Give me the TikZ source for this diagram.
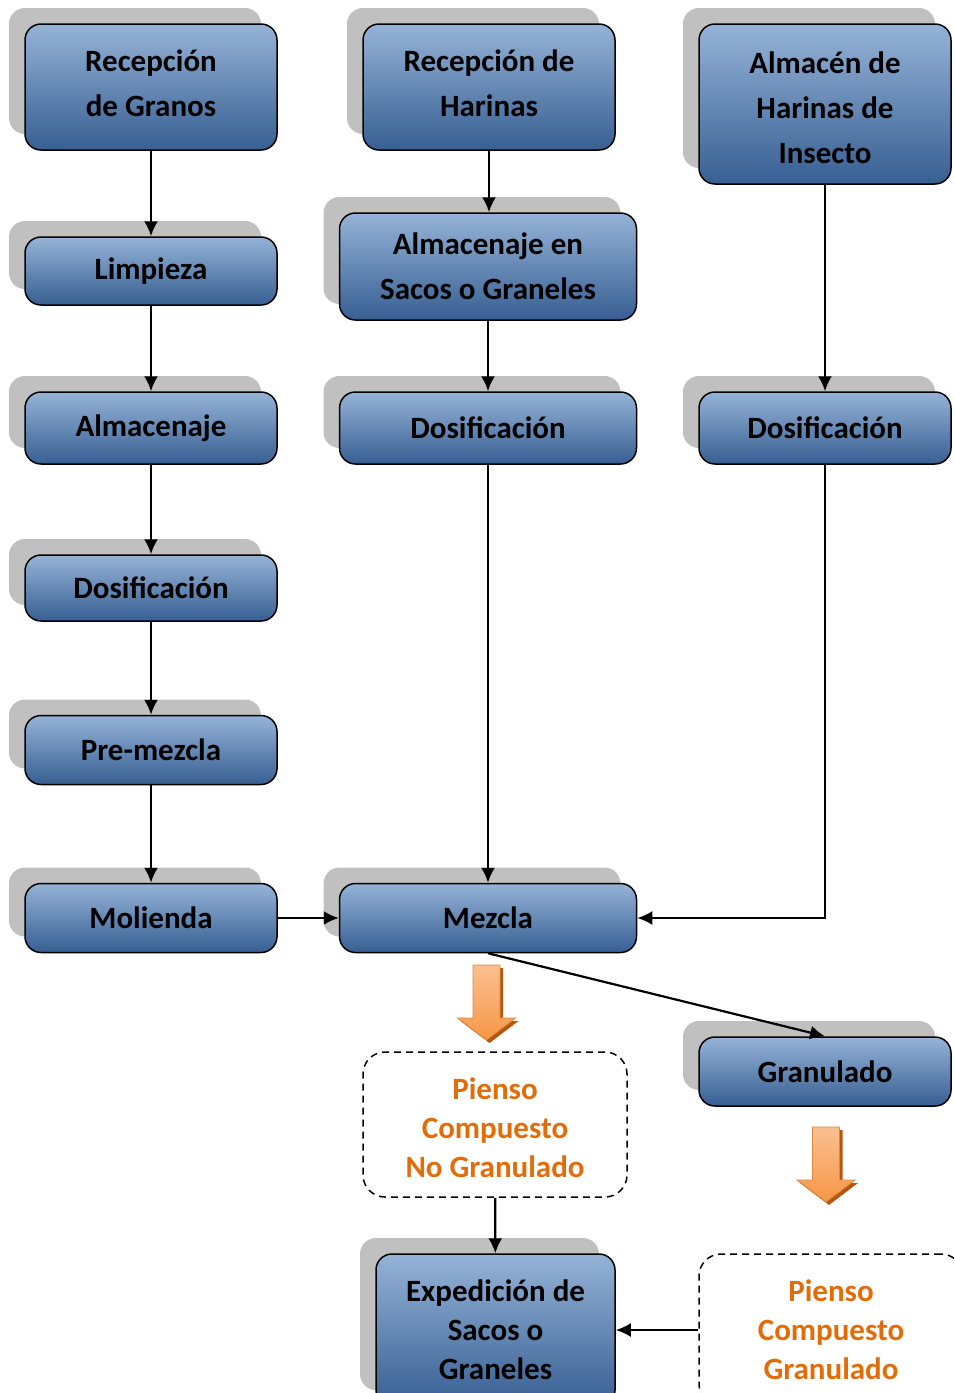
\documentclass[tikz,border=0pt]{standalone}
\usepackage{fontspec}
\setmainfont{Carlito}
\usetikzlibrary{shadows,arrows.meta}
\definecolor{btop}{HTML}{95B3D7}
\definecolor{bbot}{HTML}{375F92}
\definecolor{shgray}{HTML}{C0C0C0}
\definecolor{orangetxt}{HTML}{E36C09}
\definecolor{ardark}{HTML}{B5570E}
\definecolor{arlight}{HTML}{FAC090}
\definecolor{armid}{HTML}{F79646}
\tikzset{
  procbox/.style={draw=black, line width=1.5pt, rounded corners=16pt,
    top color=btop, bottom color=bbot,
    general shadow={fill=shgray, shadow xshift=-16pt, shadow yshift=16pt},
    align=center, inner sep=0pt, text=black,
    font=\fontsize{31}{45}\selectfont\bfseries},
  prodbox/.style={draw=black, line width=1.5pt, rounded corners=22pt,
    dash pattern=on 7pt off 5pt, align=center, inner sep=0pt, text=orangetxt,
    font=\fontsize{31}{39}\selectfont\bfseries},
  conn/.style={line width=2.2pt, -{Latex[length=15pt,width=14pt]}},
  orarrow/.pic={
    \fill[ardark] (-10.5,3) -- (16.5,3) -- (16.5,56) -- (32,56) -- (3,78) -- (-26,56) -- (-10.5,56) -- cycle;
    \shade[top color=arlight, bottom color=armid, draw=armid!90!black, line width=0.8pt]
      (-13.5,0) -- (13.5,0) -- (13.5,53) -- (29,53) -- (0,75) -- (-29,53) -- (-13.5,53) -- cycle;
  }
}
\begin{document}
\begin{tikzpicture}[x=1pt,y=-1pt]
\useasboundingbox (0,0) rectangle (954,1393);
\clip (0,0) rectangle (954,1393);
% column 1
\node[procbox, minimum width=252pt, minimum height=126pt] (rg) at (151,87) {Recepción\\de Granos\\[-37pt]};
\node[procbox, minimum width=252pt, minimum height=68pt] (lim) at (151,271) {Limpieza};
\node[procbox, minimum width=252pt, minimum height=72pt] (alm) at (151,428) {Almacenaje};
\node[procbox, minimum width=252pt, minimum height=66pt] (dos1) at (151,588) {Dosificación};
\node[procbox, minimum width=252pt, minimum height=69pt] (pre) at (151,750) {Pre-mezcla};
\node[procbox, minimum width=252pt, minimum height=69pt] (mol) at (151,918) {Molienda};
% column 2
\node[procbox, minimum width=252pt, minimum height=126pt] (rh) at (489,87) {Recepción de\\Harinas\\[-37pt]};
\node[procbox, minimum width=297pt, minimum height=107pt] (ase) at (488,266.5) {Almacenaje en\\Sacos o Graneles};
\node[procbox, minimum width=297pt, minimum height=72pt] (dos2) at (488,428) {Dosificación};
\node[procbox, minimum width=297pt, minimum height=69pt] (mez) at (488,918) {Mezcla};
% column 3
\node[procbox, minimum width=252pt, minimum height=160pt] (ahi) at (825,104) {\\[-16pt]Almacén de\\Harinas de\\Insecto};
\node[procbox, minimum width=252pt, minimum height=72pt] (dos3) at (825,428) {Dosificación};
\node[procbox, minimum width=252pt, minimum height=69pt] (gra) at (825,1071.5) {Granulado};
% products
\node[prodbox, minimum width=264pt, minimum height=145pt] (pnc) at (495,1124.5) {\\[-10pt]Pienso\\Compuesto\\No Granulado};
\node[procbox, font=\fontsize{31}{39}\selectfont\bfseries, minimum width=239pt, minimum height=152pt] (exp) at (495.5,1330) {Expedición de\\Sacos o\\Graneles};
\node[prodbox, minimum width=264pt, minimum height=152pt] (pcg) at (831,1330) {Pienso\\Compuesto\\Granulado};
% connectors
\draw[conn] (rg) -- (lim);
\draw[conn] (lim) -- (alm);
\draw[conn] (alm) -- (dos1);
\draw[conn] (dos1) -- (pre);
\draw[conn] (pre) -- (mol);
\draw[conn] (mol) -- (mez);
\draw[conn] (rh.south) -- (rh.south |- ase.north);
\draw[conn] (ase) -- (dos2);
\draw[conn] (dos2) -- (mez);
\draw[conn] (ahi) -- (dos3);
\draw[conn] (dos3.south) |- (mez.east);
\draw[conn] (mez.south) -- (gra.north);
\draw[conn] (pnc) -- (exp);
\draw[conn] (pcg) -- (exp);
% block arrows
\pic at (486.5,965) {orarrow};
\pic at (826,1127) {orarrow};
\end{tikzpicture}
\end{document}
